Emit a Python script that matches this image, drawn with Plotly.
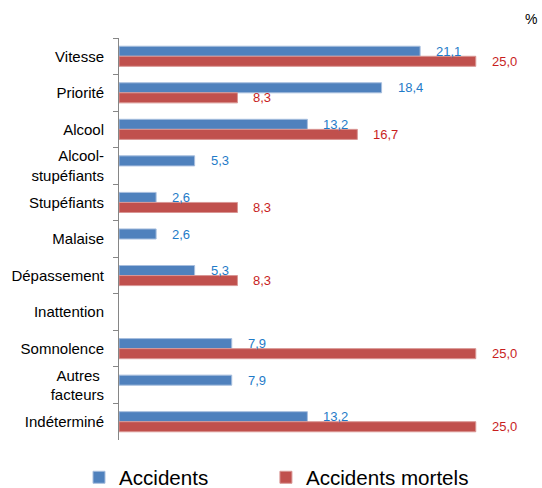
import plotly.graph_objects as go

categories = ['Vitesse', 'Priorité', 'Alcool', 'Alcool-<br>stupéfiants', 'Stupéfiants',
              'Malaise', 'Dépassement', 'Inattention', 'Somnolence',
              'Autres <br>facteurs', 'Indéterminé']
accidents = [21.1, 18.4, 13.2, 5.3, 2.6, 2.6, 5.3, None, 7.9, 7.9, 13.2]
mortels = [25.0, 8.3, 16.7, None, 8.3, None, 8.3, None, 25.0, None, 25.0]

BLUE = '#4F81BD'
RED = '#C0504D'
BLUE_TXT = '#1F7BC8'
RED_TXT = '#C81E1E'


def fmt(v):
    return f"{v:.1f}".replace('.', ',')


fig = go.Figure()
fig.add_trace(go.Bar(
    y=categories, x=accidents, orientation='h', name='Accidents',
    marker=dict(color=BLUE, line=dict(color='#A7BEDE', width=1)),
    legend='legend',
))
fig.add_trace(go.Bar(
    y=categories, x=mortels, orientation='h', name='Accidents mortels',
    marker=dict(color=RED, line=dict(color='#D99694', width=1)),
    legend='legend2',
))

# value labels, offset from the bar end like the Excel original
for vals, col, ys in [(accidents, BLUE_TXT, 5), (mortels, RED_TXT, -5)]:
    for cat, v in zip(categories, vals):
        if v is None:
            continue
        fig.add_annotation(
            x=v, y=cat, text=fmt(v), showarrow=False,
            xanchor='left', xshift=14, yshift=ys,
            font=dict(family='Liberation Sans, Arial', size=13, color=col),
        )

fig.add_annotation(
    x=0.979, y=1.047, xref='paper', yref='paper', text='%', showarrow=False,
    xanchor='center', yanchor='middle',
    font=dict(family='Liberation Sans, Arial', size=14, color='#000000'),
)

legend_style = dict(orientation='h', y=-0.093, xanchor='left', yanchor='middle',
                    font=dict(size=20.6), itemwidth=30, bgcolor='rgba(0,0,0,0)')

fig.update_layout(
    width=542, height=488,
    margin=dict(l=119, r=2, t=38, b=48, autoexpand=False),
    plot_bgcolor='white', paper_bgcolor='white',
    barmode='group', bargap=0.45, bargroupgap=0,
    font=dict(family='Liberation Sans, Arial', size=15, color='#000000'),
    xaxis=dict(range=[0, 29.5], showgrid=False, showticklabels=False,
               zeroline=False, showline=False, ticks=''),
    yaxis=dict(autorange='reversed', showgrid=False, showline=True,
               linecolor='#868686', linewidth=1, ticks='outside',
               tickson='boundaries', ticklen=5, tickcolor='#868686',
               tickfont=dict(size=15), ticklabelstandoff=11, automargin=False),
    legend=dict(x=-0.095, **legend_style),
    legend2=dict(x=0.349, **legend_style),
    showlegend=True,
)

# the page body has a default 8px margin; remove it so the figure fills the window
fig.write_html("out.html", config={'displayModeBar': False},
               post_script="document.body.style.margin='0';")
